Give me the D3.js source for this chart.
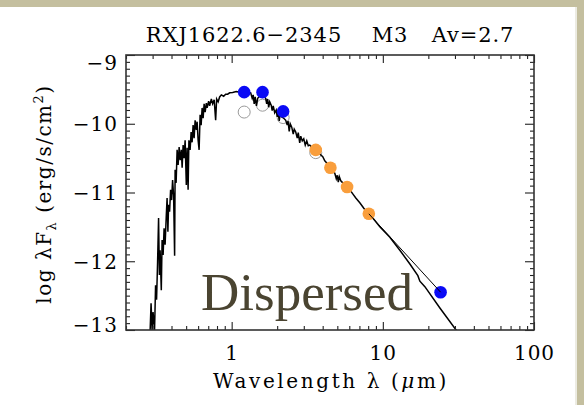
<!DOCTYPE html>
<html>
<head>
<meta charset="utf-8">
<script src="https://cdn.jsdelivr.net/npm/d3@7"></script>
<style>
  html, body { margin: 0; padding: 0; background: #ffffff; }
  svg { display: block; }
</style>
</head>
<body>
<svg id="chart" width="584" height="405"></svg>
<script>
// ---- Spectrum: photospheric model, wavelength (um) and log lambda*F_lambda ----
const specWave = [
  0.2886, 0.2930, 0.2975, 0.3020, 0.3090, 0.3138, 0.3186, 0.3236, 0.3285, 0.3326,
  0.3362, 0.3424, 0.3466, 0.3520, 0.3573, 0.3628, 0.3695, 0.3740, 0.3786, 0.3827,
  0.3885, 0.3945, 0.4006, 0.4067, 0.4130, 0.4194, 0.4226, 0.4291, 0.4357, 0.4424,
  0.4493, 0.4561, 0.4646, 0.4703, 0.4775, 0.4848, 0.4922, 0.5012, 0.5073, 0.5151,
  0.5214, 0.5311, 0.5392, 0.5475, 0.5559, 0.5645, 0.5731, 0.5837, 0.5909, 0.6000,
  0.6091, 0.6185, 0.6281, 0.6377, 0.6475, 0.6575, 0.6677, 0.6800, 0.6883, 0.7043,
  0.7150, 0.7339, 0.7484, 0.7661, 0.7835, 0.7955, 0.8139, 0.8327, 0.8546, 0.8851,
  0.9126, 0.9408, 0.9700, 1.015, 1.071, 1.130, 1.183, 1.238, 1.296, 1.336,
  1.367, 1.388, 1.409, 1.431, 1.458, 1.486, 1.532, 1.580, 1.629, 1.680,
  1.705, 1.731, 1.758, 1.785, 1.826, 1.854, 1.883, 1.927, 1.971, 2.001,
  2.032, 2.063, 2.095, 2.144, 2.210, 2.279, 2.331, 2.360, 2.403, 2.440,
  2.497, 2.555, 2.594, 2.654, 2.716, 2.757, 2.820, 2.864, 2.931, 2.998,
  3.068, 3.139, 3.212, 3.286, 3.387, 3.491, 3.655, 3.826, 4.006, 4.130,
  4.258, 4.390, 4.525, 4.666, 4.810, 4.922, 4.997, 5.074, 5.152, 5.271,
  5.434, 5.602, 5.775, 6.046, 6.328, 6.625, 7.041, 7.484, 7.834, 8.201,
  8.717, 9.553, 11.13, 12.96, 15.10, 17.05, 17.58, 18.97, 23.85, 30.76
];
const specLogF = [
  -13.03, -12.61, -13.00, -12.74, -13.00, -12.35, -12.56, -12.01, -11.37, -12.20,
  -11.84, -12.42, -11.69, -11.91, -11.52, -11.76, -11.33, -11.08, -11.57, -11.18,
  -11.28, -10.96, -11.11, -10.82, -11.04, -11.92, -10.67, -10.86, -10.38, -10.60,
  -10.34, -10.53, -10.38, -10.64, -10.31, -10.50, -10.24, -10.89, -10.35, -10.96,
  -10.24, -10.38, -10.12, -10.27, -10.02, -10.21, -9.95, -10.09, -9.97, -10.24,
  -10.38, -9.87, -10.02, -9.77, -9.92, -9.71, -9.83, -9.70, -9.77, -9.67,
  -9.74, -9.64, -9.71, -9.65, -9.95, -9.64, -9.68, -9.61, -9.58, -9.60,
  -9.57, -9.57, -9.55, -9.545, -9.53, -9.54, -9.53, -9.54, -9.54, -9.55,
  -9.63, -9.58, -9.71, -9.61, -9.74, -9.63, -9.60, -9.58, -9.60, -9.63,
  -9.71, -9.64, -9.76, -9.68, -9.73, -9.81, -9.74, -9.84, -9.80, -9.90,
  -9.83, -9.96, -9.86, -9.90, -9.92, -9.95, -10.02, -9.96, -10.11, -10.00,
  -10.05, -10.15, -10.08, -10.12, -10.21, -10.13, -10.28, -10.18, -10.25, -10.22,
  -10.31, -10.25, -10.32, -10.31, -10.34, -10.37, -10.40, -10.44, -10.48, -10.54,
  -10.57, -10.61, -10.64, -10.69, -10.72, -10.80, -10.75, -10.85, -10.77, -10.83,
  -10.86, -10.89, -10.92, -10.96, -11.02, -11.08, -11.15, -11.23, -11.28, -11.33,
  -11.39, -11.50, -11.65, -11.84, -12.04, -12.21, -12.29, -12.37, -12.68, -13.01
];

// ---- Photometry (dereddened): wavelength (um), log lambda*F_lambda, band family ----
const photWave = [1.21, 1.60, 2.19, 3.60, 4.50, 5.80, 8.08, 24.1];
const photLogF = [-9.54, -9.54, -9.82, -10.38, -10.64, -10.92, -11.31, -12.45];
const photKind = ["nir", "nir", "nir", "irac", "irac", "irac", "irac", "mips"];

// ---- Photometry as observed (before extinction correction) ----
const obsWave = [1.21, 1.60, 2.19, 3.60];
const obsLogF = [-9.83, -9.73, -9.91, -10.42];

// ---- Axis ticks ----
const xMajor = [1, 10, 100];
const xMinor = [0.2, 0.3, 0.4, 0.5, 0.6, 0.7, 0.8, 0.9,
                2, 3, 4, 5, 6, 7, 8, 9,
                20, 30, 40, 50, 60, 70, 80, 90];
const yMajor = [-13, -12, -11, -10, -9];
const yMinor = d3.range(-130, -89).map(d => d / 10).filter(d => !Number.isInteger(d));

const titleParts = ["RXJ1622.6\u22122345", "M3", "Av=2.7"];
const stageLabel = "Dispersed";

const kindColor = { nir: "#0a0af5", irac: "#f99e3c", mips: "#0a0af5" };

// ---- Layout ----
const W = 584, H = 405;
const plot = { left: 126, right: 534, top: 55, bottom: 330 };
const SERIF = "'DejaVu Serif', serif";

const svg = d3.select("#chart");

// frame around the slide
svg.append("rect").attr("x", 0).attr("y", 0).attr("width", W).attr("height", 7).attr("fill", "#c4bf9f");
svg.append("rect").attr("x", 577).attr("y", 0).attr("width", 7).attr("height", H).attr("fill", "#c4bf9f");
svg.append("rect").attr("x", 575).attr("y", 7).attr("width", 2).attr("height", H - 7).attr("fill", "#ecebe2");

const x = d3.scaleLog().domain([0.2, 100]).range([plot.left, plot.right]);
const y = d3.scaleLinear().domain([-13, -9]).range([plot.bottom, plot.top]);

svg.append("clipPath").attr("id", "plotClip")
  .append("rect")
  .attr("x", plot.left).attr("y", plot.top)
  .attr("width", plot.right - plot.left).attr("height", plot.bottom - plot.top);

const marks = svg.append("g").attr("clip-path", "url(#plotClip)");

// observed photometry: open grey circles beneath the spectrum
marks.selectAll("circle.obs")
  .data(obsWave.map((w, i) => ({ w, f: obsLogF[i] })))
  .join("circle")
  .attr("class", "obs")
  .attr("cx", d => x(d.w)).attr("cy", d => y(d.f))
  .attr("r", 6)
  .attr("fill", "#ffffff")
  .attr("stroke", "#9a9a9a")
  .attr("stroke-width", 1);

// model spectrum
const spec = specWave.map((w, i) => ({ w, f: specLogF[i] }));
marks.append("path")
  .datum(spec)
  .attr("fill", "none")
  .attr("stroke", "#000")
  .attr("stroke-width", 1.5)
  .attr("stroke-linejoin", "miter")
  .attr("d", d3.line().x(d => x(d.w)).y(d => y(d.f)));

// dereddened photometry
const phot = photWave.map((w, i) => ({ w, f: photLogF[i], k: photKind[i] }));
marks.selectAll("circle.phot")
  .data(phot)
  .join("circle")
  .attr("class", "phot")
  .attr("cx", d => x(d.w)).attr("cy", d => y(d.f))
  .attr("r", 6.3)
  .attr("fill", d => kindColor[d.k]);

// segment joining the 8 um and 24 um points
marks.append("path")
  .datum(phot.slice(6))
  .attr("fill", "none")
  .attr("stroke", "#000")
  .attr("stroke-width", 1)
  .attr("d", d3.line().x(d => x(d.w)).y(d => y(d.f)));

// ---- Axes (ticks pointing inward on all four sides) ----
const axisStyle = g => {
  g.select(".domain").remove();
  g.selectAll(".tick line").attr("stroke", "#222").attr("stroke-width", 1.1);
  g.selectAll("text")
    .style("font-family", SERIF).style("font-size", "20px")
    .style("letter-spacing", "1px").style("fill", "#000");
};

const fmtX = d => d3.format("d")(d);

svg.append("g").attr("transform", `translate(0,${plot.bottom})`)
  .call(d3.axisBottom(x).tickValues(xMajor).tickSize(-8).tickPadding(16).tickFormat(fmtX))
  .call(axisStyle);
svg.append("g").attr("transform", `translate(0,${plot.bottom})`)
  .call(d3.axisBottom(x).tickValues(xMinor).tickSize(-4).tickFormat(""))
  .call(axisStyle);
svg.append("g").attr("transform", `translate(0,${plot.top})`)
  .call(d3.axisTop(x).tickValues(xMajor).tickSize(-8).tickFormat(""))
  .call(axisStyle);
svg.append("g").attr("transform", `translate(0,${plot.top})`)
  .call(d3.axisTop(x).tickValues(xMinor).tickSize(-4).tickFormat(""))
  .call(axisStyle);

const yLab = svg.append("g").attr("transform", `translate(${plot.left},0)`)
  .call(d3.axisLeft(y).tickValues(yMajor).tickSize(-9).tickPadding(8).tickFormat(d3.format("d")))
  .call(axisStyle);
// keep the end labels inside the frame height
yLab.selectAll(".tick text")
  .attr("dy", d => d === -9 ? "0.72em" : d === -13 ? "0.05em" : "0.36em");
svg.append("g").attr("transform", `translate(${plot.left},0)`)
  .call(d3.axisLeft(y).tickValues(yMinor).tickSize(-4).tickFormat(""))
  .call(axisStyle);
svg.append("g").attr("transform", `translate(${plot.right},0)`)
  .call(d3.axisRight(y).tickValues(yMajor).tickSize(-9).tickFormat(""))
  .call(axisStyle);
svg.append("g").attr("transform", `translate(${plot.right},0)`)
  .call(d3.axisRight(y).tickValues(yMinor).tickSize(-4).tickFormat(""))
  .call(axisStyle);

// plot frame
svg.append("rect")
  .attr("x", plot.left).attr("y", plot.top)
  .attr("width", plot.right - plot.left).attr("height", plot.bottom - plot.top)
  .attr("fill", "none").attr("stroke", "#333").attr("stroke-width", 1.6);

// ---- Title ----
const titleX = [244, 390, 473];
svg.selectAll("text.title")
  .data(titleParts)
  .join("text")
  .attr("class", "title")
  .attr("x", (d, i) => titleX[i]).attr("y", 42)
  .attr("text-anchor", "middle")
  .style("font-family", SERIF).style("font-size", "21px")
  .style("letter-spacing", "0.9px").style("fill", "#000")
  .text(d => d);

// ---- Axis titles ----
const xt = svg.append("text")
  .attr("x", 331).attr("y", 388)
  .attr("text-anchor", "middle")
  .style("font-family", SERIF).style("font-size", "20px")
  .style("letter-spacing", "2.6px").style("fill", "#000");
xt.append("tspan").text("Wavelength \u03bb (");
xt.append("tspan").style("font-style", "italic").text("\u03bc");
xt.append("tspan").text("m)");

const yt = svg.append("text")
  .attr("transform", "translate(51,194) rotate(-90)")
  .attr("text-anchor", "middle")
  .style("font-family", SERIF).style("font-size", "20px")
  .style("letter-spacing", "1.5px").style("fill", "#000");
yt.append("tspan").text("log \u03bbF");
yt.append("tspan").style("font-size", "13px").attr("dy", 5).text("\u03bb");
yt.append("tspan").attr("dy", -5).text(" (erg/s/cm");
yt.append("tspan").style("font-size", "13px").attr("dy", -8).text("2");
yt.append("tspan").attr("dy", 8).text(")");

// ---- Evolutionary stage label ----
svg.append("text")
  .attr("x", 201).attr("y", 310)
  .style("font-family", "'Liberation Serif', 'Times New Roman', serif")
  .style("font-size", "53px")
  .style("fill", "#4a4431")
  .text(stageLabel);
</script>
</body>
</html>
